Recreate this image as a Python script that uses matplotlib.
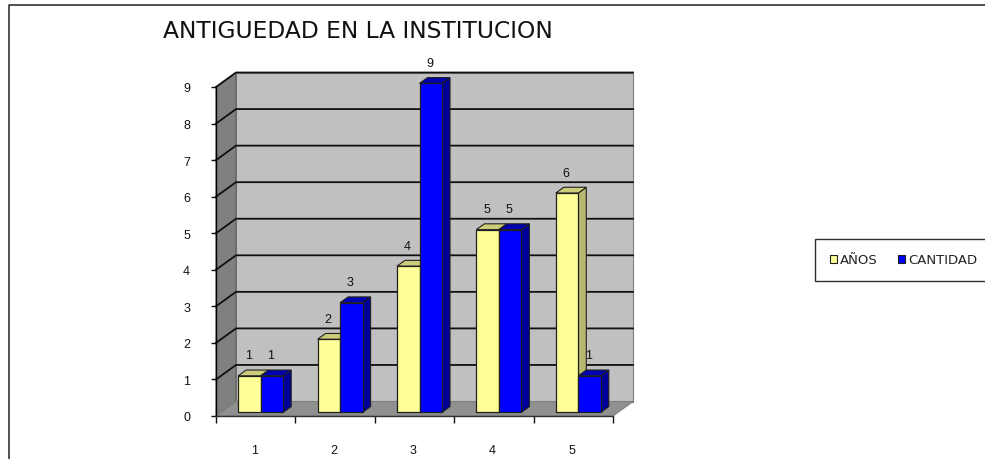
import matplotlib
matplotlib.use("Agg")
import matplotlib.pyplot as plt
from matplotlib.patches import Polygon, Patch
from matplotlib.lines import Line2D

title = "ANTIGUEDAD EN LA INSTITUCION"
categories = ["1", "2", "3", "4", "5"]
series_names = ["AÑOS", "CANTIDAD"]
anos = [1, 2, 4, 5, 6]
cantidad = [1, 3, 9, 5, 1]
yticks = list(range(10))

W, H = 985, 460
fig = plt.figure(figsize=(W / 100, H / 100), dpi=100, facecolor="white")
plt.rcParams["font.family"] = ["Liberation Sans", "DejaVu Sans"]
ax = fig.add_axes([216 / W, (H - 417) / H, 397 / W, 329 / H])
ax.set_xlim(0, 5)
ax.set_ylim(0, 9)
ax.patch.set_visible(False)
for s in ("top", "right"):
    ax.spines[s].set_visible(False)
ax.spines["left"].set_linewidth(1.0)
ax.spines["bottom"].set_linewidth(1.0)
ax.spines["bottom"].set_color("#303030")
ax.spines["left"].set_zorder(50)
ax.spines["bottom"].set_zorder(50)

DX, DY = 20 / 79.4, 14.5 / 36.6      # full depth in data units
def P(x, y, d):
    return (x + d * DX, y + d * DY)

# walls
ax.add_patch(Polygon([P(0, 0, 1), P(5, 0, 1), P(5, 9, 1), P(0, 9, 1)], fc="#C0C0C0", ec="#808080", lw=0.8, zorder=1, clip_on=False))
ax.add_patch(Polygon([P(0, 0, 0), P(0, 0, 1), P(0, 9, 1), P(0, 9, 0)], fc="#808080", ec="#606060", lw=0.8, zorder=1, clip_on=False))
ax.add_patch(Polygon([P(0, 0, 0), P(5, 0, 0), P(5, 0, 1), P(0, 0, 1)], fc="#909090", ec="#808080", lw=0.8, zorder=2, clip_on=False))
for v in yticks[1:]:
    a, b, c = P(0, v, 0), P(0, v, 1), P(5, v, 1)
    ax.plot([a[0], b[0], c[0]], [a[1], b[1], c[1]], color="#101010", lw=1.3, zorder=3, clip_on=False)

# bars
GAP, BW = 0.2165, 0.2835
D0, D1 = 0.25, 0.65
def bar3d(x, v, front, side, top, z):
    x0, b0 = P(x, 0, D0)
    ax.bar(x0, v, BW, bottom=b0, align="edge", color=front, edgecolor="#202020", linewidth=0.9, zorder=z + 0.2, clip_on=False)
    ax.add_patch(Polygon([P(x + BW, 0, D0), P(x + BW, 0, D1), P(x + BW, v, D1), P(x + BW, v, D0)], fc=side, ec="#202020", lw=0.8, zorder=z, clip_on=False))
    ax.add_patch(Polygon([P(x, v, D0), P(x + BW, v, D0), P(x + BW, v, D1), P(x, v, D1)], fc=top, ec="#202020", lw=0.8, zorder=z + 0.1, clip_on=False))

for i, (a, c) in enumerate(zip(anos, cantidad)):
    lab = 0.56
    ax.text(*P(i + GAP + BW / 2 - 0.012, a + lab, D0), str(a), ha="center", va="center", fontsize=9, color="#111111", zorder=6, clip_on=False)
    ax.text(*P(i + GAP + BW * 1.5 - 0.012, c + lab, D0), str(c), ha="center", va="center", fontsize=9, color="#111111", zorder=6, clip_on=False)
    bar3d(i + GAP, a, "#FFFF99", "#B8B870", "#CCCC7A", 10 + 2 * i)
    bar3d(i + GAP + BW, c, "#0000FF", "#000099", "#0000B0", 11 + 2 * i)

# ticks
ax.set_yticks(yticks)
ax.set_yticklabels([str(v) for v in yticks], fontsize=9, color="#111111")
ax.tick_params(axis="y", length=3.6, width=1, pad=15, color="#101010")
ax.set_xticks(range(6))
ax.set_xticklabels([""] * 6)
ax.tick_params(axis="x", length=5, width=1, color="#101010")
ax.set_xticks([i + 0.48 for i in range(5)], minor=True)
ax.set_xticklabels(categories, minor=True, fontsize=9, color="#111111")
ax.tick_params(axis="x", which="minor", length=0, pad=20)

# title and outer frame
fig.text(163 / W, 1 - 32 / H, title, fontsize=16.8, family="DejaVu Sans", ha="left", va="center", color="#111111")
fig.add_artist(Line2D([9 / W, 9 / W, 1], [0, 1 - 6 / H, 1 - 6 / H], color="#222222", lw=1.1))

# legend
handles = [Patch(fc="#FFFF99", ec="#202020", lw=0.8), Patch(fc="#0000FF", ec="#202020", lw=0.8)]
leg = fig.legend(handles, series_names, ncol=2, loc="center left", bbox_to_anchor=(815 / W, 1 - 261 / H),
                 frameon=True, fancybox=False, edgecolor="#303030", framealpha=1,
                 prop={"family": "DejaVu Sans", "size": 9.5}, handlelength=0.55, handleheight=0.55,
                 handletextpad=0.25, columnspacing=1.5, borderaxespad=0, borderpad=1.1, labelcolor="#222222")
leg.get_frame().set_linewidth(1.0)

fig.savefig("out.png", dpi=100)
